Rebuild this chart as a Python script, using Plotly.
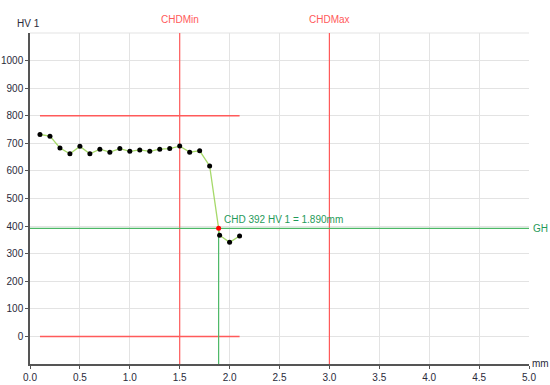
import plotly.graph_objects as go

# hardness profile readings
depth_mm = [0.1, 0.2, 0.3, 0.4, 0.5, 0.6, 0.7, 0.8, 0.9, 1.0, 1.1,
            1.2, 1.3, 1.4, 1.5, 1.6, 1.7, 1.8, 1.89, 1.9, 2.0, 2.1]
hardness = [732, 726, 683, 662, 689, 662, 679, 668, 681, 671, 676,
            671, 679, 681, 690, 668, 673, 618, 392, 367, 341, 364]

chd_depth = 1.89
chd_value = 392
chd_min = 1.5
chd_max = 3.0
tol_upper = 800
tol_lower = 0
tol_start = 0.1
tol_end = 2.1

x_ticks = [0, 0.5, 1.0, 1.5, 2.0, 2.5, 3.0, 3.5, 4.0, 4.5, 5.0]
y_ticks = [0, 100, 200, 300, 400, 500, 600, 700, 800, 900, 1000]

RED = "#ff5a5a"
GREEN = "#4cb866"
TEXT_GREEN = "#1f9a5a"
LABEL = "#2a2a3a"
FONT = "Liberation Sans, Arial, sans-serif"
FS = 10

fig = go.Figure()

# tolerance band lines
for yv in (tol_upper, tol_lower):
    fig.add_trace(go.Scatter(x=[tol_start, tol_end], y=[yv, yv], mode="lines",
                             line=dict(color=RED, width=1.5), hoverinfo="skip"))

# CHD limits
for xv in (chd_min, chd_max):
    fig.add_trace(go.Scatter(x=[xv, xv], y=[-100, 1100], mode="lines",
                             line=dict(color=RED, width=1.2), hoverinfo="skip"))

# GH line and CHD drop line
fig.add_trace(go.Scatter(x=[0, 5], y=[chd_value, chd_value], mode="lines",
                         line=dict(color=GREEN, width=1.2), hoverinfo="skip"))
fig.add_trace(go.Scatter(x=[chd_depth, chd_depth], y=[chd_value, -100], mode="lines",
                         line=dict(color=GREEN, width=1.2), hoverinfo="skip"))

# profile
prof_x = [x for x in depth_mm if x != chd_depth]
prof_y = [y for x, y in zip(depth_mm, hardness) if x != chd_depth]
fig.add_trace(go.Scatter(x=depth_mm, y=hardness, mode="lines",
                         line=dict(color="#a6d96a", width=1.3), hoverinfo="skip"))
fig.add_trace(go.Scatter(x=prof_x, y=prof_y, mode="markers",
                         marker=dict(color="black", size=5)))
fig.add_trace(go.Scatter(x=[chd_depth], y=[chd_value], mode="markers",
                         marker=dict(color="red", size=5)))

axis_common = dict(
    showgrid=True, gridcolor="#e3e3e3", gridwidth=1,
    showline=True, linecolor="#555555", linewidth=1.5,
    ticks="outside", ticklen=3, tickcolor="#555555",
    tickfont=dict(family=FONT, size=FS, color=LABEL),
    zeroline=False, fixedrange=True, automargin=False,
)

fig.update_layout(
    width=550, height=385,
    margin=dict(l=30, r=21, t=33, b=21, autoexpand=False),
    paper_bgcolor="white", plot_bgcolor="white",
    showlegend=False,
    font=dict(family=FONT),
    xaxis=dict(range=[0, 5], tickvals=x_ticks,
               ticktext=[f"{v:.1f}" for v in x_ticks], **axis_common),
    yaxis=dict(range=[-100, 1100], tickvals=y_ticks,
               ticktext=[str(v) for v in y_ticks], **axis_common),
    shapes=[
        dict(type="line", xref="paper", yref="paper", x0=0, x1=1, y0=1, y1=1,
             line=dict(color="#e3e3e3", width=1), layer="below"),
    ],
    annotations=[
        dict(x=chd_min, y=1, xref="x", yref="paper", yshift=21, text="CHDMin",
             showarrow=False, font=dict(color=RED, size=FS)),
        dict(x=chd_max, y=1, xref="x", yref="paper", yshift=21, text="CHDMax",
             showarrow=False, font=dict(color=RED, size=FS)),
        dict(x=chd_depth, y=chd_value, xref="x", yref="y", xanchor="left",
             yanchor="bottom", xshift=3, yshift=1,
             text=f"CHD {chd_value} HV 1 = {chd_depth:.3f}mm",
             showarrow=False, font=dict(color=TEXT_GREEN, size=FS)),
        dict(x=1, y=chd_value, xref="paper", yref="y", xanchor="left",
             xshift=2, text="GH", showarrow=False,
             font=dict(color=TEXT_GREEN, size=FS)),
        dict(x=0, y=1, xref="paper", yref="paper", xanchor="center",
             yanchor="bottom", xshift=-2, yshift=2, text="HV 1",
             showarrow=False, font=dict(color=LABEL, size=FS)),
        dict(x=1, y=0, xref="paper", yref="paper", xanchor="left",
             yanchor="middle", xshift=1, yshift=1, text="mm",
             showarrow=False, font=dict(color=LABEL, size=FS)),
    ],
)

fig.write_html("out.html", config={"displayModeBar": False},
               post_script="document.body.style.margin='0';")
